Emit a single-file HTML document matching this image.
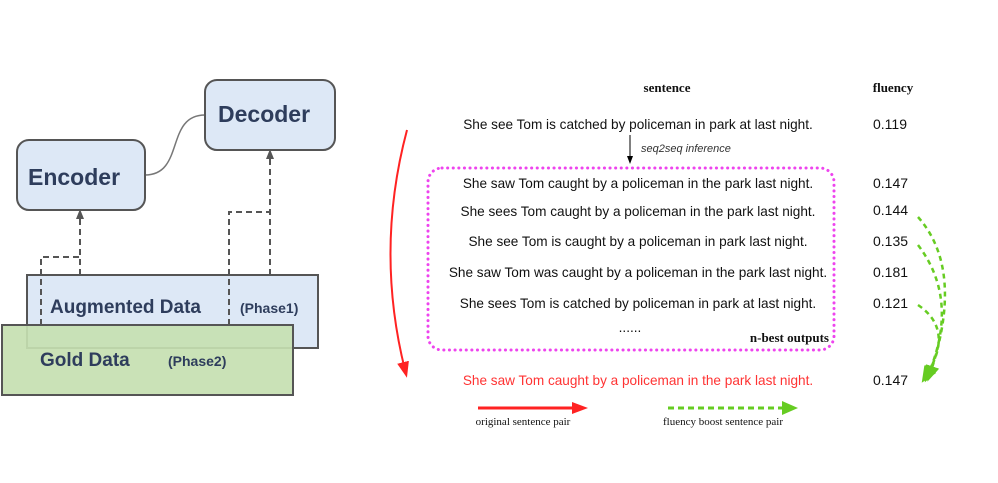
<!DOCTYPE html>
<html><head><style>body{margin:0;background:#fff}svg{display:block}</style></head><body>
<svg width="998" height="483" viewBox="0 0 998 483" xmlns="http://www.w3.org/2000/svg">
<defs>
<marker id="ag" markerUnits="userSpaceOnUse" markerWidth="10" markerHeight="10" refX="5" refY="5" orient="auto"><path d="M0,1 L10,5 L0,9z" fill="#555"/></marker>
<marker id="ab" markerUnits="userSpaceOnUse" markerWidth="8" markerHeight="8" refX="4" refY="4" orient="auto"><path d="M0,1 L8,4 L0,7z" fill="#000"/></marker>
<marker id="ar" markerUnits="userSpaceOnUse" markerWidth="16" markerHeight="16" refX="8" refY="8" orient="auto"><path d="M0,2 L16,8 L0,14z" fill="#f22"/></marker>
<marker id="agr" markerUnits="userSpaceOnUse" markerWidth="16" markerHeight="16" refX="8" refY="8" orient="auto"><path d="M0,1 L16,8 L0,15z" fill="#6c2"/></marker>
</defs>
<g font-family="Liberation Sans, sans-serif" font-weight="bold" fill="#2e3d5c">
<path d="M145,175 C185,175 165,115 205,115" fill="none" stroke="#777" stroke-width="1.5"/>
<rect x="17" y="140" width="128" height="70" rx="12" fill="#dde8f6" stroke="#555" stroke-width="2"/>
<text x="28" y="185" font-size="23">Encoder</text>
<rect x="205" y="80" width="130" height="70" rx="12" fill="#dde8f6" stroke="#555" stroke-width="2"/>
<text x="218" y="122" font-size="23">Decoder</text>
<rect x="27" y="275" width="291" height="73" fill="#dde8f6" stroke="#555" stroke-width="2"/>
<text x="50" y="313" font-size="19">Augmented Data</text>
<text x="240" y="313" font-size="14">(Phase1)</text>
<g stroke="#555" stroke-width="2" stroke-dasharray="6,4" fill="none">
<path d="M80,275 V214" marker-end="url(#ag)"/>
<path d="M41,325 V257 H80"/>
<path d="M270,275 V154" marker-end="url(#ag)"/>
<path d="M229,325 V212 H270"/>
</g>
<rect x="2" y="325" width="291" height="70" fill="#c6dfb1" fill-opacity="0.92" stroke="#555" stroke-width="2"/>
<text x="40" y="366" font-size="19">Gold Data</text>
<text x="168" y="366" font-size="14">(Phase2)</text>
</g>
<g font-family="Liberation Serif, serif" font-weight="bold" font-size="13" fill="#111">
<text x="667" y="92" text-anchor="middle">sentence</text>
<text x="893" y="92" text-anchor="middle">fluency</text>
<text x="829" y="342" text-anchor="end">n-best outputs</text>
</g>
<g font-family="Liberation Sans, sans-serif" font-size="13.6" fill="#111" text-anchor="middle">
<text x="638" y="129">She see Tom is catched by policeman in park at last night.</text>
<text x="638" y="188">She saw Tom caught by a policeman in the park last night.</text>
<text x="638" y="216">She sees Tom caught by a policeman in the park last night.</text>
<text x="638" y="246">She see Tom is caught by a policeman in park last night.</text>
<text x="638" y="277">She saw Tom was caught by a policeman in the park last night.</text>
<text x="638" y="308">She sees Tom is catched by policeman in park at last night.</text>
<text x="630" y="332">......</text>
<text x="638" y="385" fill="#f33">She saw Tom caught by a policeman in the park last night.</text>
</g>
<g font-family="Liberation Sans, sans-serif" font-size="14" fill="#111">
<text x="873" y="129">0.119</text>
<text x="873" y="188">0.147</text>
<text x="873" y="215">0.144</text>
<text x="873" y="246">0.135</text>
<text x="873" y="277">0.181</text>
<text x="873" y="308">0.121</text>
<text x="873" y="385">0.147</text>
<text x="641" y="152" font-size="11" font-style="italic" fill="#333">seq2seq inference</text>
</g>
<path d="M630,135 V160" stroke="#000" stroke-width="1" marker-end="url(#ab)"/>
<rect x="428" y="168" width="406" height="182" rx="14" fill="none" stroke="#e4e" stroke-width="3" stroke-dasharray="0.1,5.5" stroke-linecap="round"/>
<path d="M407,130 Q375,250 405,370" fill="none" stroke="#f22" stroke-width="2" marker-end="url(#ar)"/>
<g fill="none" stroke="#6c2" stroke-width="2.5" stroke-dasharray="5,4">
<path d="M918,217 Q965,270 930,374" marker-end="url(#agr)"/>
<path d="M918,245 Q960,300 928,375" marker-end="url(#agr)"/>
<path d="M918,305 Q955,330 926,376" marker-end="url(#agr)"/>
</g>
<path d="M478,408 H580" stroke="#f22" stroke-width="3" marker-end="url(#ar)"/>
<path d="M668,408 H790" stroke="#6c2" stroke-width="3" stroke-dasharray="6,4" marker-end="url(#agr)"/>
<g font-family="Liberation Serif, serif" font-size="11" fill="#111" text-anchor="middle">
<text x="523" y="425">original sentence pair</text>
<text x="723" y="425">fluency boost sentence pair</text>
</g>
</svg>
</body></html>
